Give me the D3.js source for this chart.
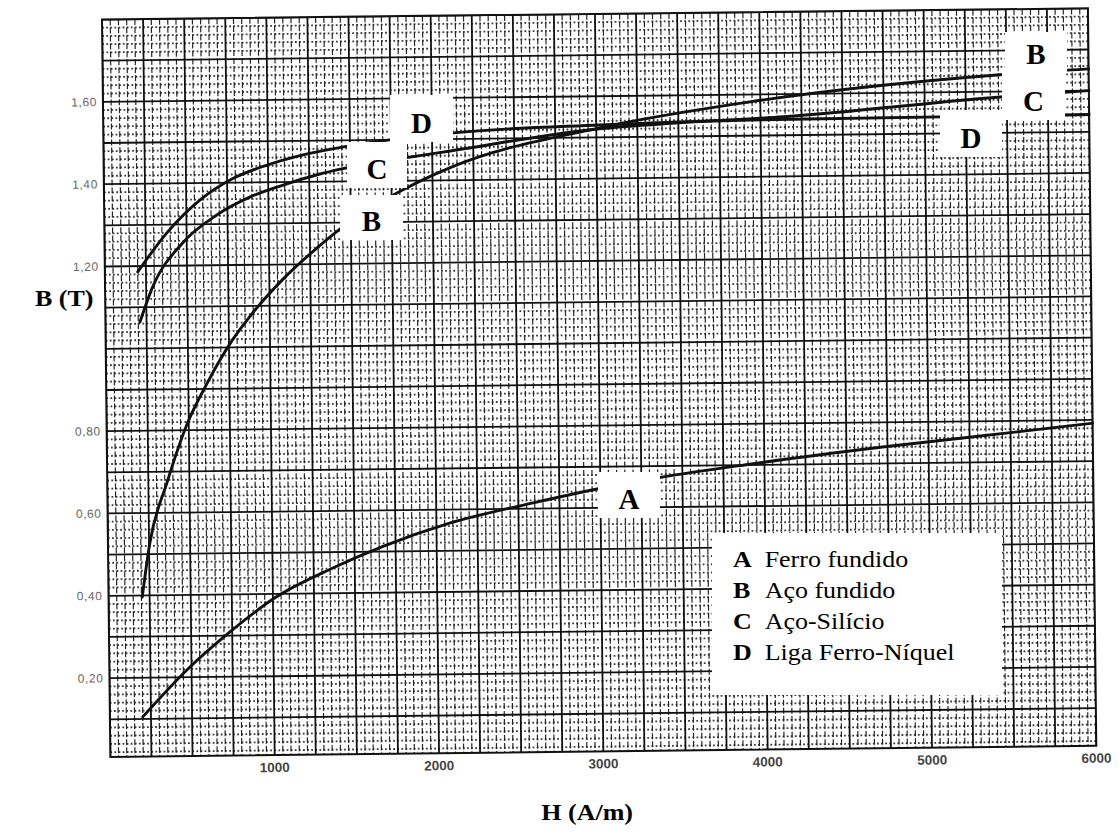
<!DOCTYPE html>
<html>
<head>
<meta charset="utf-8">
<script src="https://cdn.jsdelivr.net/npm/d3@7"></script>
<style>
  body { margin: 0; background: #fff; }
  svg { display: block; }
  .serif { font-family: 'Liberation Serif', 'Times New Roman', serif; }
  .sans { font-family: 'Liberation Sans', Arial, sans-serif; }
</style>
</head>
<body>
<script>
// magnetisation curves, [H (A/m), B (T)]
const curveA = [[200,0.105],[470,0.217],[740,0.31],[1010,0.39],[1370,0.462],[1670,0.512],[2080,0.567],[2590,0.614],[2980,0.646],[3360,0.672],[3910,0.702],[4720,0.74],[5540,0.773],[6000,0.792]];
const curveB = [[205,0.396],[255,0.527],[365,0.675],[490,0.815],[615,0.914],[775,1.02],[880,1.075],[1085,1.165],[1295,1.24],[1435,1.285],[1820,1.378],[2105,1.43],[3020,1.523],[3935,1.582],[5460,1.641],[6000,1.653]];
const curveC = [[210,1.064],[290,1.149],[475,1.255],[685,1.322],[890,1.365],[1090,1.393],[1300,1.417],[1455,1.431],[1845,1.456],[2110,1.471],[3020,1.521],[3500,1.533],[4140,1.545],[5460,1.587],[6000,1.60]];
const curveD = [[200,1.186],[380,1.28],[585,1.359],[785,1.41],[995,1.442],[1195,1.464],[1460,1.484],[2130,1.515],[3020,1.53],[3500,1.535],[3940,1.538],[6000,1.542]];

const xTicks = [1000, 2000, 3000, 4000, 5000, 6000];
const xTickLabels = ["1000", "2000", "3000", "4000", "5000", "6000"];
const yTicks = [0.2, 0.4, 0.6, 0.8, 1.2, 1.4, 1.6];
const yTickLabels = ["0,20", "0,40", "0,60", "0,80", "1,20", "1,40", "1,60"];

const legendKeys = ["A", "B", "C", "D"];
const legendNames = ["Ferro fundido", "Aço fundido", "Aço-Silício", "Liga Ferro-Níquel"];

const width = 1119, height = 834;
const plotW = 986, plotH = 737.5;

const svg = d3.select("body").append("svg")
  .attr("width", width)
  .attr("height", height);

svg.append("rect").attr("width", width).attr("height", height).attr("fill", "#fff");

// the scanned sheet is slightly tilted
const plot = svg.append("g")
  .attr("transform", "translate(102,19.5) rotate(-0.65)");

const x = d3.scaleLinear().domain([0, 6000]).range([0, plotW]);
const y = d3.scaleLinear().domain([0, 1.8]).range([741, 0]);

plot.append("clipPath").attr("id", "clip")
  .append("rect").attr("width", plotW).attr("height", plotH);

const grid = plot.append("g").attr("clip-path", "url(#clip)");

// graph paper: minor lines every 50 A/m and 0.02 T, heavier every 250 A/m and 0.1 T
const vLines = d3.range(0, 121).map(i => i * 50);
const hLines = d3.range(0, 91).map(i => i * 0.02);

grid.selectAll("line.hmin")
  .data(hLines.filter((d, i) => i % 5 !== 0))
  .enter().append("line")
  .attr("x1", 0).attr("x2", plotW)
  .attr("y1", d => y(d)).attr("y2", d => y(d))
  .attr("stroke", "#3a3a3a").attr("stroke-width", 1.8)
  .attr("stroke-dasharray", "1.8,2.3");

grid.selectAll("line.vmin")
  .data(vLines.filter((d, i) => i % 5 !== 0))
  .enter().append("line")
  .attr("x1", d => x(d)).attr("x2", d => x(d))
  .attr("y1", 0).attr("y2", plotH)
  .attr("stroke", "#262626").attr("stroke-width", 1.2)
  .attr("stroke-dasharray", "6,2");

grid.selectAll("line.hmaj")
  .data(hLines.filter((d, i) => i % 5 === 0))
  .enter().append("line")
  .attr("x1", 0).attr("x2", plotW)
  .attr("y1", d => y(d)).attr("y2", d => y(d))
  .attr("stroke", "#111").attr("stroke-width", 1.8);

grid.selectAll("line.vmaj")
  .data(vLines.filter((d, i) => i % 5 === 0))
  .enter().append("line")
  .attr("x1", d => x(d)).attr("x2", d => x(d))
  .attr("y1", 0).attr("y2", plotH)
  .attr("stroke", "#111").attr("stroke-width", 1.8);

// curves
const line = d3.line()
  .x(d => x(d[0]))
  .y(d => y(d[1]))
  .curve(d3.curveMonotoneX);

plot.selectAll("path.curve")
  .data([curveA, curveB, curveC, curveD])
  .enter().append("path")
  .attr("d", line)
  .attr("fill", "none")
  .attr("stroke", "#111")
  .attr("stroke-width", 2.9)
  .attr("stroke-linecap", "round");

// frame
plot.append("rect")
  .attr("width", plotW).attr("height", plotH)
  .attr("fill", "none").attr("stroke", "#111").attr("stroke-width", 2);

// tick labels
plot.selectAll("text.ytick")
  .data(yTicks)
  .enter().append("text")
  .attr("class", "sans")
  .attr("x", -6).attr("y", d => y(d))
  .attr("dy", "0.35em")
  .attr("text-anchor", "end")
  .attr("font-size", 12)
  .attr("letter-spacing", 0.6)
  .attr("fill", "#666")
  .text((d, i) => yTickLabels[i]);

plot.selectAll("text.xtick")
  .data(xTicks)
  .enter().append("text")
  .attr("class", "sans")
  .attr("x", d => x(d)).attr("y", plotH + 17)
  .attr("text-anchor", "middle")
  .attr("font-size", 13.5)
  .attr("font-weight", "bold")
  .attr("fill", "#444")
  .text((d, i) => xTickLabels[i]);

// letter tags pasted over the scan
const tags = [
  {k: "D", x: 390, y: 95, w: 63, h: 47},
  {k: "C", x: 347, y: 142, w: 60, h: 46},
  {k: "B", x: 340, y: 195, w: 63, h: 45},
  {k: "A", x: 598, y: 472, w: 62, h: 46},
  {k: "B", x: 1005, y: 32, w: 62, h: 41},
  {k: "C", x: 1002, y: 73, w: 63, h: 47},
  {k: "D", x: 940, y: 110, w: 62, h: 47}
];

const tag = svg.selectAll("g.tag")
  .data(tags)
  .enter().append("g")
  .attr("transform", d => `translate(${d.x},${d.y})`);

tag.append("rect")
  .attr("width", d => d.w).attr("height", d => d.h)
  .attr("fill", "#fff");

tag.append("text")
  .attr("class", "serif")
  .attr("x", d => d.w / 2)
  .attr("y", d => d.h - 9)
  .attr("text-anchor", "middle")
  .attr("font-weight", "bold")
  .attr("font-size", 29)
  .attr("fill", "#000")
  .text(d => d.k);

// legend
const legend = svg.append("g").attr("transform", "translate(712,533)");
legend.append("rect").attr("width", 290).attr("height", 162).attr("fill", "#fff");

const rows = legend.selectAll("g.row")
  .data(legendKeys)
  .enter().append("g")
  .attr("transform", (d, i) => `translate(21,${34 + i * 31}) scale(1.13,1)`);

rows.append("text")
  .attr("class", "serif")
  .attr("font-weight", "bold")
  .attr("font-size", 23)
  .text(d => d);

rows.append("text")
  .attr("class", "serif")
  .attr("x", 28)
  .attr("font-size", 23)
  .text((d, i) => legendNames[i]);

// axis titles
svg.append("text")
  .attr("class", "serif")
  .attr("font-weight", "bold")
  .attr("font-size", 23)
  .attr("transform", "translate(35,306) scale(1.13,1)")
  .text("B (T)");

svg.append("text")
  .attr("class", "serif")
  .attr("text-anchor", "end")
  .attr("font-weight", "bold")
  .attr("font-size", 23)
  .attr("transform", "translate(633,820) scale(1.13,1)")
  .text("H (A/m)");
</script>
</body>
</html>
